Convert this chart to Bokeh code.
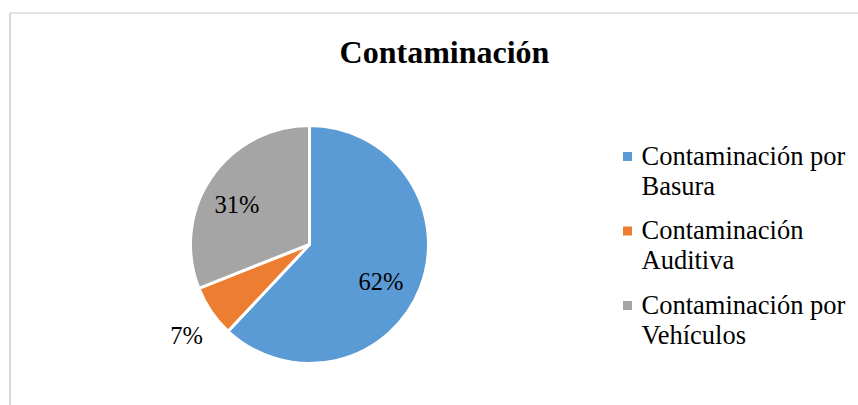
import numpy as np
from bokeh.plotting import figure
from bokeh.models import ColumnDataSource, Range1d
from bokeh.core.properties import value
from bokeh.embed import file_html
from bokeh.resources import INLINE

# ---- data ----
title_text = "Contaminación"
categories = ["Contaminación por Basura", "Contaminación Auditiva", "Contaminación por Vehículos"]
shares = [62, 7, 31]
colors = ["#5B9BD5", "#ED7D31", "#A5A5A5"]

# ---- layout (pixels, page coordinates) ----
W, H = 858, 405
OFF = 0  # page offset of the figure
FONT = "Liberation Serif"
BASE_FIX = 0.33  # baseline correction of rendered text, in em

def py(page_y):
    return H - (page_y - OFF)

def px(page_x):
    return page_x - OFF

p = figure(width=W, height=H, output_backend="svg", toolbar_location=None,
           x_range=Range1d(0, W), y_range=Range1d(0, H), min_border=0)
p.axis.visible = False
p.grid.visible = False
p.outline_line_color = None
p.background_fill_color = "white"
p.border_fill_color = "white"

# chart area border (top and left visible)
p.line(x=[px(9.5), W + 5], y=[py(12.5), py(12.5)], line_color="#D9D9D9", line_width=1.5)
p.line(x=[px(9.5), px(9.5)], y=[py(12.5), -5], line_color="#D9D9D9", line_width=2)

# title
TS = 32
p.text(x=[px(444)], y=[py(62 - BASE_FIX * TS)], text=[title_text], text_font=value(FONT),
       text_font_size=f"{TS}px", text_font_style="bold", text_align="center",
       text_baseline="alphabetic", text_color="#000000")

# pie
cx, cy, r = px(309), py(244), 119
total = float(sum(shares))
fr = np.array(shares) / total
ends = np.cumsum(fr)
starts = ends - fr
start_angle = np.deg2rad(90 - starts * 360)
end_angle = np.deg2rad(90 - ends * 360)
src = ColumnDataSource(dict(start=start_angle, end=end_angle, color=colors, cat=categories))
p.wedge(x=cx, y=cy, radius=r, start_angle="start", end_angle="end", direction="clock",
        fill_color="color", line_color="white", line_width=3, source=src)

# percentage labels (baseline offsets from the pie centre, pixels: right, down)
LS = 24.5
label_offsets = [(71.5, 45), (-123, 99), (-72.5, -32)]
lab_x = [cx + dx for dx, dy in label_offsets]
lab_y = [cy - dy + BASE_FIX * LS for dx, dy in label_offsets]
lab_t = [f"{round(v / total * 100)}%" for v in shares]
p.text(x=lab_x, y=lab_y, text=lab_t, text_font=value(FONT), text_font_size=f"{LS}px",
       text_align="center", text_baseline="alphabetic", text_color="#000000")

# legend (manual, wrapped)
def wrap(s, width=17):
    lines, cur = [], ""
    for w in s.split():
        t = (cur + " " + w).strip()
        if len(t) <= width or not cur:
            cur = t
        else:
            lines.append(cur)
            cur = w
    lines.append(cur)
    return lines

GS = 26.5
first_base = 164
line_h = 30
item_step = 74.5
tx, ty, tt = [], [], []
sq_x, sq_y = [], []
for i, cat in enumerate(categories):
    b = first_base + i * item_step
    sq_x.append(px(627))
    sq_y.append(py(b - 8))
    for j, ln in enumerate(wrap(cat)):
        tx.append(px(641))
        ty.append(py(b + j * line_h - BASE_FIX * GS))
        tt.append(ln)
p.scatter(x=sq_x, y=sq_y, marker="square", size=9, fill_color=colors, line_color=None)
p.text(x=tx, y=ty, text=tt, text_font=value(FONT), text_font_size=f"{GS}px",
       text_align="left", text_baseline="alphabetic", text_color="#000000")

open("out.html", "w").write(file_html(p, INLINE))
